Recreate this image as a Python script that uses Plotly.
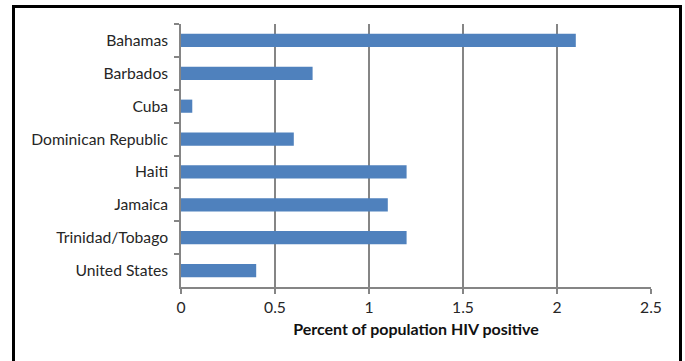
import plotly.graph_objects as go

countries = ["Bahamas", "Barbados", "Cuba", "Dominican Republic", "Haiti",
             "Jamaica", "Trinidad/Tobago", "United States"]
hiv_percent = [2.1, 0.7, 0.06, 0.6, 1.2, 1.1, 1.2, 0.4]
x_ticks = [0, 0.5, 1, 1.5, 2, 2.5]
x_tick_labels = ["0", "0.5", "1", "1.5", "2", "2.5"]

W, H = 685, 361
L, R, T, B = 181, 34, 24, 74
pw, ph = W - L - R, H - T - B

fig = go.Figure(go.Bar(
    x=hiv_percent, y=countries, orientation="h",
    marker=dict(color="#4F81BD", line=dict(width=0)),
    width=0.4,
))

font = "Lato, 'Open Sans', sans-serif"
fig.update_layout(
    width=W, height=H,
    margin=dict(l=L, r=R, t=T, b=B),
    paper_bgcolor="white", plot_bgcolor="white",
    font=dict(family=font, size=15.7, color="#262626"),
    showlegend=False,
    xaxis=dict(
        range=[0, 2.5], tickvals=x_ticks, ticktext=x_tick_labels,
        showgrid=True, gridcolor="#858585", gridwidth=1.5,
        showline=True, linecolor="#858585", linewidth=1.5,
        ticks="outside", ticklen=5, tickcolor="#858585", tickwidth=1.5,
        zeroline=False,
        title=dict(text="<b>Percent of population HIV positive</b>",
                   font=dict(size=16, color="#111"), standoff=9),
        tickfont=dict(size=15.7),
    ),
    yaxis=dict(
        categoryorder="array", categoryarray=countries, autorange="reversed",
        showgrid=False, showline=True, linecolor="#858585", linewidth=1.5,
        ticks="outside", ticklen=5, tickcolor="#858585", tickwidth=1.5,
        tickson="boundaries", zeroline=False,
        tickfont=dict(size=15.7), ticksuffix="  ",
    ),
)

def px_x(p):
    return (p - L) / pw

def px_y(p):
    return 1 - (p - T) / ph

fig.add_shape(type="rect", xref="paper", yref="paper",
              x0=px_x(13.5), x1=px_x(680.5), y0=px_y(366), y1=px_y(6.5),
              line=dict(color="black", width=3), fillcolor="rgba(0,0,0,0)",
              layer="above")

fig.write_html("out.html")
